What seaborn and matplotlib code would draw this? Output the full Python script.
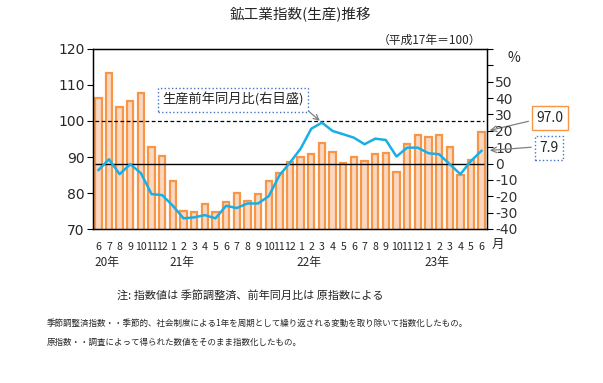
import numpy as np
import pandas as pd
import matplotlib
matplotlib.use('Agg')
import matplotlib.pyplot as plt
import seaborn as sns

# ---- data ----
months = ['6', '7', '8', '9', '10', '11', '12',
          '1', '2', '3', '4', '5', '6', '7', '8', '9', '10', '11', '12',
          '1', '2', '3', '4', '5', '6', '7', '8', '9', '10', '11', '12',
          '1', '2', '3', '4', '5', '6']
index_values = [106.4, 113.2, 104.0, 105.6, 107.9, 92.9, 90.4,
                83.2, 74.9, 74.6, 76.9, 74.6, 77.4, 79.9, 77.9, 79.7, 83.3, 85.5, 88.7,
                90.1, 90.7, 93.8, 91.5, 88.4, 89.9, 89.0, 90.7, 91.0, 85.9, 93.5, 96.0,
                95.6, 96.0, 92.7, 85.0, 89.2, 97.0]
yoy_values = [-4.1, 2.6, -6.5, -0.4, -5.9, -18.7, -19.3,
              -25.8, -33.5, -32.9, -31.5, -33.5, -25.8, -27.2, -24.4, -24.4, -20.0, -7.3, 0.6,
              9.1, 21.3, 25.0, 19.9, 17.9, 15.8, 11.8, 15.2, 14.4, 4.3, 9.7, 9.7,
              6.3, 5.7, -0.4, -6.5, 1.6, 7.9]
year_labels = ['20年', '21年', '22年', '23年']
year_positions = [0, 7, 19, 31]
left_ticks = [70, 80, 90, 100, 110, 120]
right_ticks = [-40, -30, -20, -10, 0, 10, 20, 30, 40, 50, 60, 70]
right_tick_labels = ['-40', '-30', '-20', '-10', '0', '10', '20', '30', '40', '50', '', '']

df = pd.DataFrame({'pos': np.arange(len(months)), 'index': index_values, 'yoy': yoy_values})

sns.set_style('white')
plt.rcParams['font.family'] = ['Noto Sans CJK JP', 'DejaVu Sans']
plt.rcParams['axes.unicode_minus'] = True

W, H = 603, 383
fig = plt.figure(figsize=(W / 100, H / 100), dpi=100)
ax = fig.add_axes([93 / W, 1 - 229 / H, (487 - 93) / W, (229 - 49) / H])

sns.barplot(data=df, x='pos', y='index', ax=ax, color='#fbd8c2',
            edgecolor='#f79646', linewidth=1.6, width=0.6, saturation=1)
ax.set_ylim(70, 120)
ax.set_xlim(-0.5, len(months) - 0.5)
ax.set_yticks(left_ticks)
ax.set_yticklabels([str(v) for v in left_ticks], fontsize=10, family='DejaVu Sans')
ax.set_xticks(np.arange(len(months)))
ax.set_xticklabels(months, fontsize=7.6)
ax.tick_params(axis='x', length=0, pad=9)
ax.set_xticks(np.arange(-0.5, len(months)), minor=True)
ax.tick_params(axis='x', which='minor', direction='inout', length=5, width=0.8, color='black')
ax.tick_params(axis='y', direction='out', length=4, width=0.8, color='black', pad=2)
ax.set_xlabel('')
ax.set_ylabel('')
for s in ax.spines.values():
    s.set_visible(True)
    s.set_color('black')
    s.set_linewidth(1.0)

# reference lines
ax.hlines(100, -0.3, 36.2, colors='black', linestyles=(0, (3, 2)), linewidth=0.9, zorder=3)

ax2 = ax.twinx()
ax2.hlines(0, -0.3, 36.2, colors='black', linewidth=1.0, zorder=2)
sns.lineplot(data=df, x='pos', y='yoy', ax=ax2, color='#1aaee6', linewidth=1.8, zorder=4)
ax2.set_ylim(-40, 70)
ax2.set_xlim(-0.5, len(months) - 0.5)
ax2.set_yticks(right_ticks)
ax2.set_yticklabels(right_tick_labels, fontsize=10, color='#333333', family='DejaVu Sans')
ax2.tick_params(axis='y', direction='out', length=4, width=0.8, color='black', pad=2)
ax2.set_ylabel('')
ax2.set_xlabel('')
for s in ax2.spines.values():
    s.set_visible(True)
    s.set_color('black')

# year labels
for lbl, p in zip(year_labels, year_positions):
    ax.text(p - 0.35, -0.185, lbl, transform=ax.get_xaxis_transform(), ha='left', va='center', fontsize=8.5)

# texts in figure pixels
def fy(y):
    return 1 - y / H

fig.text(300 / W, fy(15), '鉱工業指数(生産)推移', ha='center', va='center', fontsize=10.5)
fig.text(430 / W, fy(40), '（平成17年＝100）', ha='center', va='center', fontsize=8.5)
fig.text(514 / W, fy(58), '%', ha='center', va='center', fontsize=10)
fig.text(498 / W, fy(244), '月', ha='center', va='center', fontsize=9)
fig.text(250 / W, fy(295), '注: 指数値は 季節調整済、前年同月比は 原指数による', ha='center', va='center', fontsize=8)
fig.text(47 / W, fy(323), '季節調整済指数・・季節的、社会制度による1年を周期として繰り返される変動を取り除いて指数化したもの。',
         ha='left', va='center', fontsize=6.1)
fig.text(47 / W, fy(342), '原指数・・調査によって得られた数値をそのまま指数化したもの。',
         ha='left', va='center', fontsize=6.1)

ax2.annotate('生産前年同月比(右目盛)', xy=(21, 25.0), xycoords='data',
             xytext=(233, H - 100), textcoords='figure pixels', ha='center', va='center', fontsize=9.5,
             bbox=dict(boxstyle='square,pad=0.35', fc='white', ec='#4472c4', ls=':', lw=1.0),
             arrowprops=dict(arrowstyle='->', color='#808080', lw=0.9, shrinkA=0, shrinkB=2,
                             relpos=(1.0, 0.0)), zorder=6)
ax.annotate('97.0', xy=(1.0, 97.2), xycoords=('axes fraction', 'data'),
            xytext=(550, H - 118), textcoords='figure pixels', ha='center', va='center', fontsize=10,
            bbox=dict(boxstyle='square,pad=0.35', fc='white', ec='#f79646', lw=1.0),
            arrowprops=dict(arrowstyle='->', color='#808080', lw=0.9, relpos=(0.0, 0.4)),
            annotation_clip=False, zorder=6)
ax2.annotate('7.9', xy=(1.0, 7.9), xycoords=('axes fraction', 'data'),
             xytext=(549, H - 148), textcoords='figure pixels', ha='center', va='center', fontsize=10,
             bbox=dict(boxstyle='square,pad=0.35', fc='white', ec='#4472c4', ls=':', lw=1.0),
             arrowprops=dict(arrowstyle='->', color='#808080', lw=0.9, relpos=(0.0, 0.6)),
             annotation_clip=False, zorder=6)

fig.savefig('out.png', dpi=100)
